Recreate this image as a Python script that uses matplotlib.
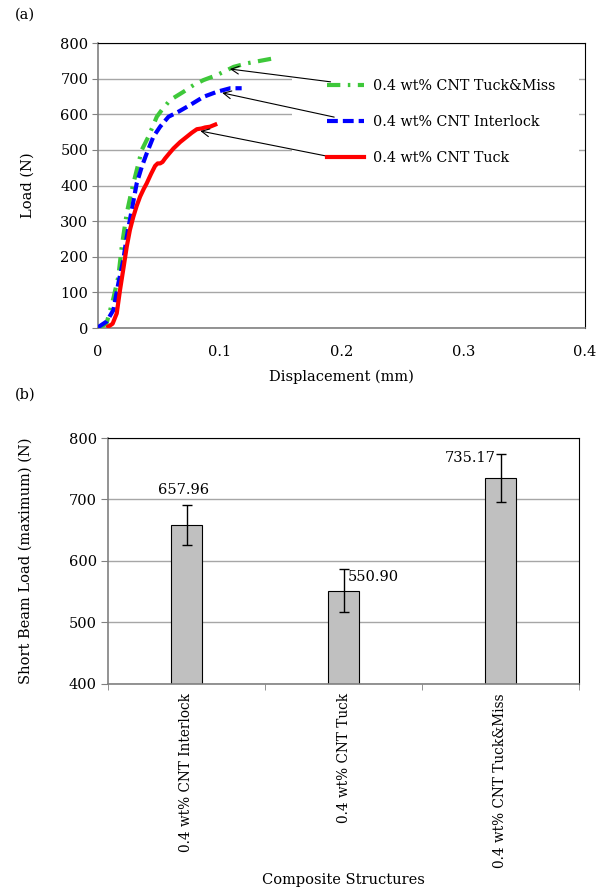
import numpy as np
import matplotlib
matplotlib.use("Agg")
import matplotlib.pyplot as plt
from matplotlib.patches import Rectangle

plt.rcParams["font.family"] = ["DejaVu Serif"]
plt.rcParams["font.size"] = 10.5

# ── (a) load-displacement curves ──
tuck_x = [0.0085, 0.0120, 0.0154, 0.0181, 0.0210, 0.0236, 0.0262, 0.0290, 0.0318,
          0.0346, 0.0375, 0.0400, 0.0435, 0.0469, 0.0490, 0.0510, 0.0530, 0.0551,
          0.0585, 0.0620, 0.0675, 0.0730, 0.0770, 0.0812, 0.0850, 0.0880, 0.0920, 0.0963]
tuck_y = [4, 12, 41, 107, 170, 228, 275, 312, 343, 369, 390, 406, 432, 455, 462, 462,
          466, 476, 490, 504, 522, 537, 548, 558, 560, 563, 565, 571]

inter_x = [0.0000, 0.0070, 0.0126, 0.0167, 0.0208, 0.0236, 0.0277, 0.0318, 0.0360,
           0.0400, 0.0455, 0.0510, 0.0579, 0.0660, 0.0757, 0.0867, 0.0977, 0.1086, 0.1180]
inter_y = [2, 18, 50, 125, 191, 256, 331, 406, 453, 490, 537, 565, 593, 607, 626,
           649, 663, 673, 673]

miss_x = [0.0020, 0.0070, 0.0126, 0.0167, 0.0195, 0.0236, 0.0277, 0.0318, 0.0360,
          0.0414, 0.0483, 0.0524, 0.0593, 0.0702, 0.0785, 0.0867, 0.0977, 0.1114,
          0.1224, 0.1333, 0.1443]
miss_y = [2, 13, 83, 144, 228, 322, 387, 443, 500, 537, 593, 612, 640, 663, 682,
          696, 710, 733, 743, 750, 757]

legend_labels = ["0.4 wt% CNT Tuck&Miss", "0.4 wt% CNT Interlock", "0.4 wt% CNT Tuck"]

# ── (b) short beam maximum load ──
structures = ["0.4 wt% CNT Interlock", "0.4 wt% CNT Tuck", "0.4 wt% CNT Tuck&Miss"]
max_load = [657.96, 550.90, 735.17]
load_err = [33, 35, 39]
value_text = ["657.96", "550.90", "735.17"]

GRID = "#a6a6a6"
GREEN = "#3ec83a"
BLUE = "#0000ff"
RED = "#ff0000"

fig = plt.figure(figsize=(6.05, 8.89), dpi=100)

# ── top panel ──
ax = fig.add_axes([98 / 605, 1 - 328 / 889, 487 / 605, 285 / 889])
ax.set_xlim(0, 0.4)
ax.set_ylim(0, 800)
ax.set_xticks([0, 0.1, 0.2, 0.3, 0.4])
ax.set_xticklabels(["0", "0.1", "0.2", "0.3", "0.4"])
ax.set_yticks(range(0, 801, 100))
ax.yaxis.grid(True, color=GRID, lw=1.0, zorder=0)
ax.set_axisbelow(True)
ax.tick_params(axis="x", length=0, pad=12)
ax.tick_params(axis="y", length=4, color="#808080", pad=3)
for s in ["left", "bottom"]:
    ax.spines[s].set_color("#808080")
ax.spines["left"].set_linewidth(1.2)
ax.spines["bottom"].set_linewidth(1.2)

# white box behind the legend hides the gridlines
ax.add_patch(Rectangle((0.398, 0.56), 0.589, 0.33, transform=ax.transAxes,
                       facecolor="white", edgecolor="none", zorder=1))

l_miss, = ax.plot(miss_x, miss_y, color=GREEN, lw=3, ls=(0, (3.2, 1.8, 0.6, 1.8)), zorder=3)
l_int, = ax.plot(inter_x, inter_y, color=BLUE, lw=3, ls=(0, (2.6, 1.2)), zorder=3)
l_tuck, = ax.plot(tuck_x, tuck_y, color=RED, lw=3, zorder=3)

arrows = [((0.1083, 727), (0.191, 691)),
          ((0.102, 660), (0.194, 592)),
          ((0.084, 553), (0.196, 477))]
for tip, tail in arrows:
    ax.annotate("", xy=tip, xytext=tail,
                arrowprops=dict(arrowstyle="->", color="black", lw=0.8,
                                mutation_scale=14, shrinkA=0, shrinkB=0),
                zorder=4)

leg = ax.legend([l_miss, l_int, l_tuck], legend_labels, loc="upper left",
                bbox_to_anchor=(0.455, 0.9), frameon=False, borderpad=0,
                handlelength=2.6, handletextpad=0.6, labelspacing=1.55,
                fontsize=10.3)

ax.set_xlabel("Displacement (mm)", labelpad=8)
ax.set_ylabel("Load (N)", labelpad=18)
fig.text(15 / 605, 1 - 15 / 889, "(a)", ha="left", va="center")

# ── bottom panel ──
bx = fig.add_axes([108 / 605, 1 - 683.5 / 889, 471 / 605, 245.5 / 889])
pos = np.arange(len(structures))
bx.bar(pos, max_load, width=0.2, color="#c0c0c0", edgecolor="black", lw=0.8, zorder=2)
bx.errorbar(pos, max_load, yerr=load_err, fmt="none", ecolor="black",
            elinewidth=1.0, capsize=3.5, capthick=1.0, zorder=3)
bx.set_xlim(-0.5, 2.5)
bx.set_ylim(400, 800)
bx.set_yticks(range(400, 801, 100))
bx.yaxis.grid(True, color=GRID, lw=1.0, zorder=0)
bx.set_axisbelow(True)
bx.set_xticks(pos)
bx.set_xticklabels(structures, rotation=90, va="top", ha="center", fontsize=9.8)
bx.set_xticks([-0.5, 0.5, 1.5, 2.5], minor=True)
bx.tick_params(axis="x", which="major", length=0, pad=7)
bx.tick_params(axis="x", which="minor", length=4, color="#808080")
bx.tick_params(axis="y", length=5, color="#808080", pad=3)
for s in ["left", "bottom"]:
    bx.spines[s].set_color("#808080")
bx.spines["left"].set_linewidth(1.2)
bx.spines["bottom"].set_linewidth(1.2)

label_pos = [(-0.02, 716, "center"), (1.03, 574, "left"), (1.97, 768, "right")]
for (lx, ly, ha), txt in zip(label_pos, value_text):
    bx.text(lx, ly, txt, ha=ha, va="center")

bx.set_ylabel("Short Beam Load (maximum) (N)", labelpad=26)
bx.set_xlabel("Composite Structures")
bx.xaxis.set_label_coords(0.5, -0.772)
fig.text(15 / 605, 1 - 395 / 889, "(b)", ha="left", va="center")

fig.savefig("out.png", dpi=100)
